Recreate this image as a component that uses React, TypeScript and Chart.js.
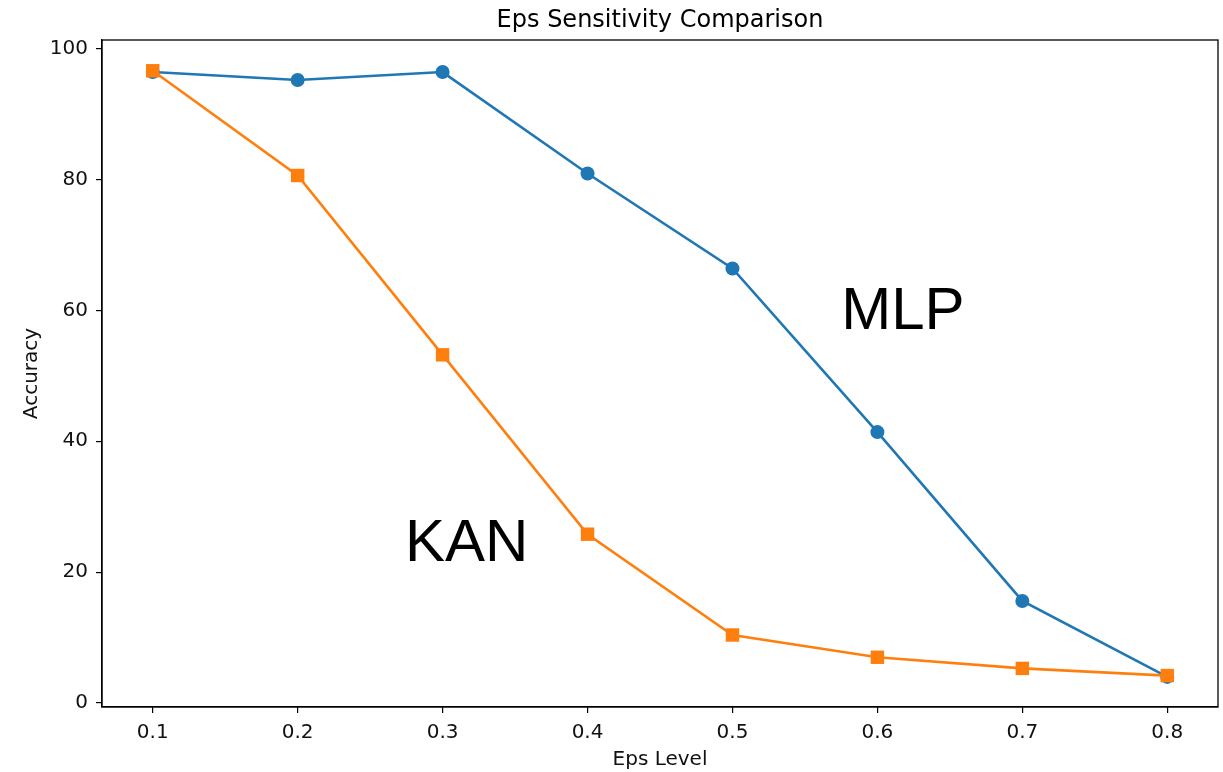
import React, { useEffect, useRef } from "react";
import { Chart, registerables } from "chart.js";

Chart.register(...registerables);

const epsLevels = [0.1, 0.2, 0.3, 0.4, 0.5, 0.6, 0.7, 0.8];
const mlpAccuracy = [96.4, 95.2, 96.4, 80.9, 66.4, 41.4, 15.6, 4.0];
const kanAccuracy = [96.6, 80.6, 53.2, 25.8, 10.4, 7.0, 5.3, 4.2];
const xTickValues = [0.1, 0.2, 0.3, 0.4, 0.5, 0.6, 0.7, 0.8];
const yTickValues = [0, 20, 40, 60, 80, 100];
const textLabels = ["MLP", "KAN"];
const textX = [0.575, 0.274];
const textY = [57.1, 21.7];

const TITLE = "Eps Sensitivity Comparison";
const FONT = "'DejaVu Sans', sans-serif";

export default function App() {
  const ref = useRef<HTMLCanvasElement | null>(null);

  useEffect(() => {
    document.body.style.margin = "0";
    const canvas = ref.current;
    if (!canvas) return;

    const framePlugin = {
      id: "frame",
      afterDraw(chart: any) {
        const { ctx, chartArea } = chart;
        const xs = chart.scales.x;
        const ys = chart.scales.y;
        ctx.save();
        ctx.strokeStyle = "#000";
        ctx.lineWidth = 1.3;
        ctx.strokeRect(chartArea.left, chartArea.top, chartArea.right - chartArea.left, chartArea.bottom - chartArea.top);
        ctx.fillStyle = "#000";
        ctx.font = `24px ${FONT}`;
        ctx.textAlign = "center";
        ctx.textBaseline = "alphabetic";
        ctx.fillText(TITLE, (chartArea.left + chartArea.right) / 2, 27);
        ctx.font = "60px 'Liberation Sans', Arial, sans-serif";
        ctx.textAlign = "left";
        for (let i = 0; i < textLabels.length; i++) {
          ctx.fillText(textLabels[i], xs.getPixelForValue(textX[i]), ys.getPixelForValue(textY[i]));
        }
        ctx.restore();
      },
    };

    const chart = new Chart(canvas, {
      type: "line",
      data: {
        datasets: [
          {
            label: "KAN",
            data: epsLevels.map((x, i) => ({ x, y: kanAccuracy[i] })),
            borderColor: "#ff7f0e",
            backgroundColor: "#ff7f0e",
            pointStyle: "rect",
            pointRadius: 9.5,
            pointBorderWidth: 0,
            borderWidth: 2.6,
            order: 0,
            clip: false,
          },
          {
            label: "MLP",
            data: epsLevels.map((x, i) => ({ x, y: mlpAccuracy[i] })),
            borderColor: "#1f77b4",
            backgroundColor: "#1f77b4",
            pointStyle: "circle",
            pointRadius: 7,
            pointBorderWidth: 0,
            borderWidth: 2.6,
            order: 1,
            clip: false,
          },
        ],
      },
      options: {
        responsive: false,
        animation: false,
        layout: { autoPadding: false, padding: { top: 40, right: 5, left: 0, bottom: 0 } },
        plugins: { legend: { display: false }, tooltip: { enabled: false }, title: { display: false } },
        scales: {
          x: {
            type: "linear",
            min: 0.065,
            max: 0.835,
            afterBuildTicks: (s: any) => {
              s.ticks = xTickValues.map((v) => ({ value: v }));
            },
            afterFit: (s: any) => {
              s.height = 65;
              s.paddingLeft = 0;
              s.paddingRight = 0;
            },
            grid: { drawOnChartArea: false, drawTicks: true, tickLength: 6, color: "#000", lineWidth: 1.2 },
            border: { display: true, color: "#000", width: 1.3 },
            ticks: {
              color: "#111",
              font: { family: FONT, size: 20 },
              padding: 8,
              maxRotation: 0,
              autoSkip: false,
              callback: (v: any) => Number(v).toFixed(1),
            },
            title: {
              display: true,
              text: "Eps Level",
              color: "#111",
              font: { family: FONT, size: 20 },
              padding: { top: 0, bottom: 0 },
            },
          },
          y: {
            type: "linear",
            min: -0.6,
            max: 101.3,
            afterBuildTicks: (s: any) => {
              s.ticks = yTickValues.map((v) => ({ value: v }));
            },
            afterFit: (s: any) => {
              s.width = 102;
              s.paddingTop = 0;
              s.paddingBottom = 0;
            },
            grid: { drawOnChartArea: false, drawTicks: true, tickLength: 6, color: "#000", lineWidth: 1.2 },
            border: { display: true, color: "#000", width: 1.3 },
            ticks: {
              color: "#111",
              font: { family: FONT, size: 20 },
              padding: 8,
              autoSkip: false,
              callback: (v: any) => String(v),
            },
            title: {
              display: true,
              text: "Accuracy",
              color: "#111",
              font: { family: FONT, size: 20 },
              padding: { top: 20, bottom: 0 },
            },
          },
        },
      },
      plugins: [framePlugin],
    });

    return () => chart.destroy();
  }, []);

  return (
    <div style={{ width: 1223, height: 772 }}>
      <canvas ref={ref} width={1223} height={772} style={{ display: "block" }} />
    </div>
  );
}
